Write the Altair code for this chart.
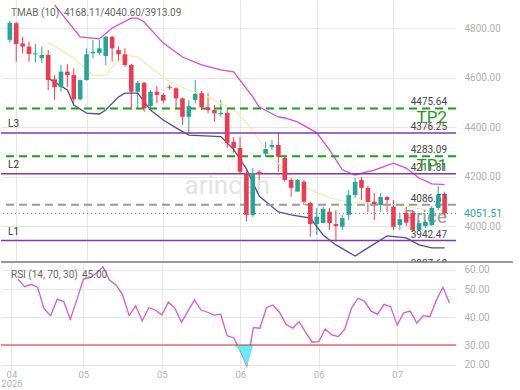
import altair as alt
import pandas as pd

FONT = "Roboto"
UP_C = "#26a69a"
DN_C = "#ef3b4f"

# ---------------- data ----------------
opens = [4752, 4819, 4738, 4725, 4694, 4678, 4691, 4593, 4561, 4624,
         4610, 4512, 4590, 4698, 4700, 4687, 4765, 4711, 4694, 4651,
         4543, 4579, 4485, 4543, 4530, 4563, 4557, 4516, 4442, 4510,
         4537, 4480, 4469, 4453, 4457, 4341, 4316, 4215, 4046, 4220,
         4292, 4319, 4328, 4276, 4187, 4140, 4180, 4094, 4009, 4013,
         4059, 4009, 3998, 4046, 4126, 4187, 4155, 4099, 4086, 4118,
         4079, 4005, 4054, 4054, 3985, 4001, 4005, 4074, 4126]
highs = [4829, 4825, 4765, 4745, 4735, 4725, 4711, 4610, 4651, 4654,
         4637, 4592, 4718, 4752, 4752, 4768, 4768, 4725, 4718, 4655,
         4586, 4582, 4550, 4566, 4537, 4570, 4561, 4520, 4510, 4590,
         4547, 4537, 4489, 4510, 4477, 4360, 4360, 4227, 4235, 4227,
         4341, 4348, 4378, 4281, 4195, 4191, 4187, 4099, 4074, 4078,
         4074, 4066, 4046, 4146, 4195, 4199, 4163, 4134, 4134, 4122,
         4106, 4054, 4078, 4066, 4025, 4025, 4082, 4163, 4138]
lows = [4741, 4664, 4698, 4664, 4660, 4658, 4550, 4510, 4543, 4561,
        4496, 4508, 4588, 4678, 4691, 4651, 4664, 4664, 4644, 4469,
        4476, 4462, 4469, 4496, 4496, 4550, 4469, 4409, 4376, 4496,
        4469, 4456, 4422, 4442, 4316, 4296, 4215, 4019, 4038, 4167,
        4281, 4308, 4220, 4180, 4119, 4140, 4086, 3958, 3965, 4013,
        3985, 3938, 3985, 4025, 4114, 4106, 4058, 4025, 4058, 4058,
        3985, 3985, 4001, 3977, 3981, 3993, 4001, 4066, 4033]
closes = [4821, 4735, 4725, 4695, 4698, 4691, 4590, 4561, 4624, 4610,
          4512, 4590, 4694, 4704, 4718, 4765, 4718, 4694, 4651, 4543,
          4579, 4476, 4543, 4530, 4507, 4559, 4516, 4442, 4485, 4534,
          4480, 4469, 4456, 4458, 4336, 4315, 4220, 4046, 4215, 4211,
          4312, 4328, 4281, 4187, 4155, 4187, 4099, 4009, 4039, 4070,
          4013, 4001, 4033, 4126, 4179, 4155, 4098, 4090, 4118, 4106,
          3998, 4029, 4015, 3985, 4013, 4018, 4074, 4126, 4051.51]

upper_idx = [7, 11, 14, 16, 19, 20, 21, 24, 27, 30, 33, 35, 38, 39, 42, 43,
             45, 48, 50, 52, 54, 57, 60, 62, 64, 66, 68]
upper_val = [4893, 4764, 4756, 4800, 4840, 4840, 4824, 4739, 4683, 4651, 4631,
             4623, 4522, 4481, 4441, 4437, 4421, 4377, 4308, 4228, 4207, 4227,
             4255, 4235, 4195, 4171, 4168.11]
mid_idx = [6, 10, 13, 15, 16, 18, 20, 22, 25, 28, 31, 35, 37, 39, 41, 43, 46,
           50, 53, 56, 61, 65, 68]
mid_val = [4743, 4678, 4610, 4610, 4642, 4691, 4683, 4642, 4582, 4550, 4522,
           4470, 4420, 4349, 4277, 4228, 4159, 4114, 4098, 4094, 4086, 4066,
           4040.60]
lower_idx = [6, 9, 10, 12, 14, 15, 17, 18, 20, 22, 24, 26, 28, 33, 35, 37, 39,
             42, 44, 47, 49, 51, 54, 56, 59, 62, 64, 66, 68]
lower_val = [4598, 4550, 4489, 4457, 4453, 4469, 4522, 4537, 4537, 4469, 4429,
             4397, 4368, 4362, 4310, 4232, 4122, 4058, 4046, 4033, 3965, 3925,
             3880, 3913, 3961, 3953, 3925, 3913, 3913.09]

rsi_first = 2
rsi_vals = [55.1, 51.2, 52.4, 50.9, 42.9, 40.5, 46.4, 45.5, 39.2, 46.1,
            55.1, 55.8, 58.1, 61.4, 54.6, 52.1, 47.9, 40.5, 44.0, 38.6,
            43.3, 42.5, 40.7, 45.3, 43.1, 38.1, 42.1, 46.1, 42.5, 41.7,
            40.7, 41.0, 33.3, 32.6, 27.0, 19.2, 36.2, 36.0, 43.3, 44.3,
            41.7, 37.4, 36.0, 38.3, 34.5, 31.0, 31.2, 35.7, 33.6, 33.0,
            35.7, 43.1, 46.7, 45.7, 42.1, 41.0, 44.5, 43.7, 37.1, 41.5,
            42.1, 37.8, 40.5, 40.1, 46.1, 50.9, 45.0]
rsi_oversold = [30]

tp_vals = [4475.64, 4283.09]
tp_names = ["TP2", "TP1"]
l_vals = [4376.25, 4211.81, 3942.47]
l_names = ["L3", "L2", "L1"]
entry_vals = [4086.57]
last_price = [4051.51]
value_labels = [4475.64, 4376.25, 4283.09, 4211.81, 4086.57, 3942.47]
cut_label = ["3887.60"]

price_ticks = [4000, 4200, 4400, 4600, 4800]
rsi_ticks = [20, 30, 40, 50, 60]
tick_idx = [1, 12, 24, 36, 48, 60]
tick_lab = ["04", "05", "05", "06", "06", "07"]
year_lab = "2026"

tmab_title = "TMAB (10)"
tmab_values = "4168.11/4040.60/3913.09"
rsi_title = "RSI (14, 70, 30)"
rsi_last = "45.00"

# ---------------- layout constants ----------------
W = 455
PH = 262
RH = 107
GRID = "#e6e6e6"
LBL = "#b0b0b0"

x_scale = alt.Scale(domain=[-0.6, 69.0], nice=False, zero=False)
p_scale = alt.Scale(domain=[3856, 4913], nice=False, zero=False)
r_scale = alt.Scale(domain=[17.5, 20, 30, 40, 50, 60, 63.8],
                    range=[107, 102.5, 83, 55, 27, 7.5, 0], nice=False, zero=False)

expr_parts = []
for k, (t, lab) in enumerate(zip(tick_idx, tick_lab)):
    lab_js = f"['{lab}', '{year_lab}']" if k == 0 else f"'{lab}'"
    expr_parts.append(f"datum.value == {t} ? {lab_js}")
label_expr = " : ".join(expr_parts) + " : ''"

XG = alt.Axis(values=tick_idx, labels=False, ticks=False, domain=False,
              grid=True, gridColor=GRID, title=None, minExtent=0, maxExtent=0)
YP = alt.Axis(orient="right", values=price_ticks, format=".2f", ticks=False,
              domain=False, grid=True, gridColor=GRID, labelColor=LBL,
              labelFontSize=10, labelFont=FONT, labelPadding=8, title=None)
XL = alt.Axis(values=tick_idx, labelExpr=label_expr, ticks=False, domain=False,
              grid=True, gridColor=GRID, labelColor=LBL, labelFontSize=9.5,
              labelFont=FONT, labelPadding=0, labelLineHeight=9.5,
              labelOverlap=False, labelFlush=False, title=None)
YR = alt.Axis(orient="right", values=rsi_ticks, format=".2f", ticks=False, domain=False,
              grid=True, gridColor=GRID, labelColor=LBL, labelFontSize=10,
              labelFont=FONT, labelPadding=8, title=None)


def px(field="i:Q"):
    return alt.X(field, scale=x_scale, axis=XG)


def py(field):
    return alt.Y(field, scale=p_scale, axis=YP)


def rx(field="i:Q"):
    return alt.X(field, scale=x_scale, axis=XL)


def ry(field):
    return alt.Y(field, scale=r_scale, axis=YR)


cdf = pd.DataFrame({"i": list(range(len(opens))), "open": opens, "high": highs,
                    "low": lows, "close": closes})
color = alt.condition("datum.close >= datum.open", alt.value(UP_C), alt.value(DN_C))

wick = alt.Chart(cdf).mark_rule(strokeWidth=1).encode(
    x=px(), y=py("low:Q"), y2="high:Q", color=color)
body = alt.Chart(cdf).mark_bar(size=4.6).encode(
    x=px(), y=py("open:Q"), y2="close:Q", color=color)


def band(idx, vals, col, w):
    d = pd.DataFrame({"i": idx, "v": vals})
    return alt.Chart(d).mark_line(color=col, strokeWidth=w, clip=True).encode(
        x=px(), y=py("v:Q"))


upper = band(upper_idx, upper_val, "#d24fd0", 1.3)
mid = band(mid_idx, mid_val, "#f3eaa6", 1.2)
lower = band(lower_idx, lower_val, "#4d4d94", 1.3)

tp_df = pd.DataFrame({"v": tp_vals, "name": tp_names})
l_df = pd.DataFrame({"v": l_vals, "name": l_names})
tp_lines = alt.Chart(tp_df).mark_rule(color="#239a23", strokeWidth=2, strokeDash=[8, 5]).encode(
    y=py("v:Q"))
l_lines = alt.Chart(l_df).mark_rule(color="#7f3aa6", strokeWidth=1.5).encode(y=py("v:Q"))
entry_line = alt.Chart(pd.DataFrame({"v": entry_vals})).mark_rule(
    color="#9a9a9a", strokeWidth=2, strokeDash=[8, 5]).encode(y=py("v:Q"))
last_line = alt.Chart(pd.DataFrame({"v": last_price})).mark_rule(
    color="#808080", strokeWidth=1, strokeDash=[1, 3]).encode(y=py("v:Q"))

val_lbl = alt.Chart(pd.DataFrame({"v": value_labels})).mark_text(
    align="right", baseline="alphabetic", dy=-3, fontSize=10, font=FONT, color="#444").encode(
    x=alt.value(446), y=py("v:Q"), text=alt.Text("v:Q", format=".2f"))
l_lbl = alt.Chart(l_df).mark_text(
    align="left", baseline="alphabetic", dy=-6, fontSize=10, font=FONT, color="#333").encode(
    x=alt.value(7), y=py("v:Q"), text="name:N")
tp_lbl = alt.Chart(tp_df).mark_text(
    align="right", baseline="top", dy=2, fontSize=17, font=FONT, color="#239a23").encode(
    x=alt.value(446), y=py("v:Q"), text="name:N")
last_lbl = alt.Chart(pd.DataFrame({"v": last_price})).mark_text(
    align="left", baseline="middle", fontSize=10.5, font=FONT, color=UP_C).encode(
    x=alt.value(W + 8), y=py("v:Q"), text=alt.Text("v:Q", format=".2f"))
cut_lbl = alt.Chart(pd.DataFrame({"t": cut_label})).mark_text(
    align="right", baseline="top", fontSize=10, font=FONT, color="#444", clip=True).encode(
    x=alt.value(446), y=alt.value(PH - 3), text="t:N")
price_word = alt.Chart(pd.DataFrame({"v": [4036], "t": ["Price"]})).mark_text(
    align="right", baseline="middle", fontSize=19, font=FONT, color="#8c8c8c", opacity=0.85).encode(
    x=alt.value(446), y=py("v:Q"), text="t:N")
watermark = alt.Chart(pd.DataFrame({"i": [34], "v": [4162], "t": ["arincen"]})).mark_text(
    align="center", baseline="middle", fontSize=26, font=FONT, color="#e3e3e3").encode(
    x=px(), y=py("v:Q"), text="t:N")
title1 = alt.Chart(pd.DataFrame({"t": [tmab_title]})).mark_text(
    align="left", baseline="middle", fontSize=10, font=FONT, color="#666").encode(
    x=alt.value(10), y=alt.value(13), text="t:N")
title2 = alt.Chart(pd.DataFrame({"t": [tmab_values]})).mark_text(
    align="left", baseline="middle", fontSize=10, font=FONT, color="#666").encode(
    x=alt.value(63), y=alt.value(13), text="t:N")

price = alt.layer(
    wick, watermark, mid, upper, lower, l_lines, tp_lines, entry_line, last_line,
    val_lbl, l_lbl, price_word, body, tp_lbl, last_lbl, cut_lbl, title1, title2
).properties(width=W, height=PH)

# ---------------- RSI ----------------
rdf = pd.DataFrame({"i": list(range(rsi_first, rsi_first + len(rsi_vals))), "rsi": rsi_vals})

rsi_fill = alt.Chart(rdf).transform_calculate(
    lo="min(datum.rsi, 30)", hi="30").mark_area(color="#5eeef2", opacity=0.95).encode(
    x=rx(), y=ry("lo:Q"), y2="hi:Q")
rsi_ref = alt.Chart(pd.DataFrame({"v": rsi_oversold})).mark_rule(
    color="#e0242c", strokeWidth=1.2).encode(y=ry("v:Q"))
rsi_line = alt.Chart(rdf).mark_line(color="#cf5ccf", strokeWidth=1.3).encode(
    x=rx(), y=ry("rsi:Q"))
sep = alt.Chart(pd.DataFrame({"a": [0]})).mark_rule(color="#767676", strokeWidth=1.5).encode(
    x=alt.value(0), x2=alt.value(512), y=alt.value(0))
rt1 = alt.Chart(pd.DataFrame({"t": [rsi_title]})).mark_text(
    align="left", baseline="middle", fontSize=10, font=FONT, color="#666").encode(
    x=alt.value(10), y=alt.value(13), text="t:N")
rt2 = alt.Chart(pd.DataFrame({"t": [rsi_last]})).mark_text(
    align="left", baseline="middle", fontSize=10, font=FONT, color="#666").encode(
    x=alt.value(81), y=alt.value(13), text="t:N")

rsi = alt.layer(rsi_line, rsi_fill, rsi_ref, sep, rt1, rt2).properties(width=W, height=RH)

chart = alt.vconcat(price, rsi, spacing=0, bounds="flush").properties(
    padding=0, background="white"
).configure_view(stroke=None).configure_text(font=FONT)

chart.save("out.html", embed_options={"renderer": "svg", "actions": False})
